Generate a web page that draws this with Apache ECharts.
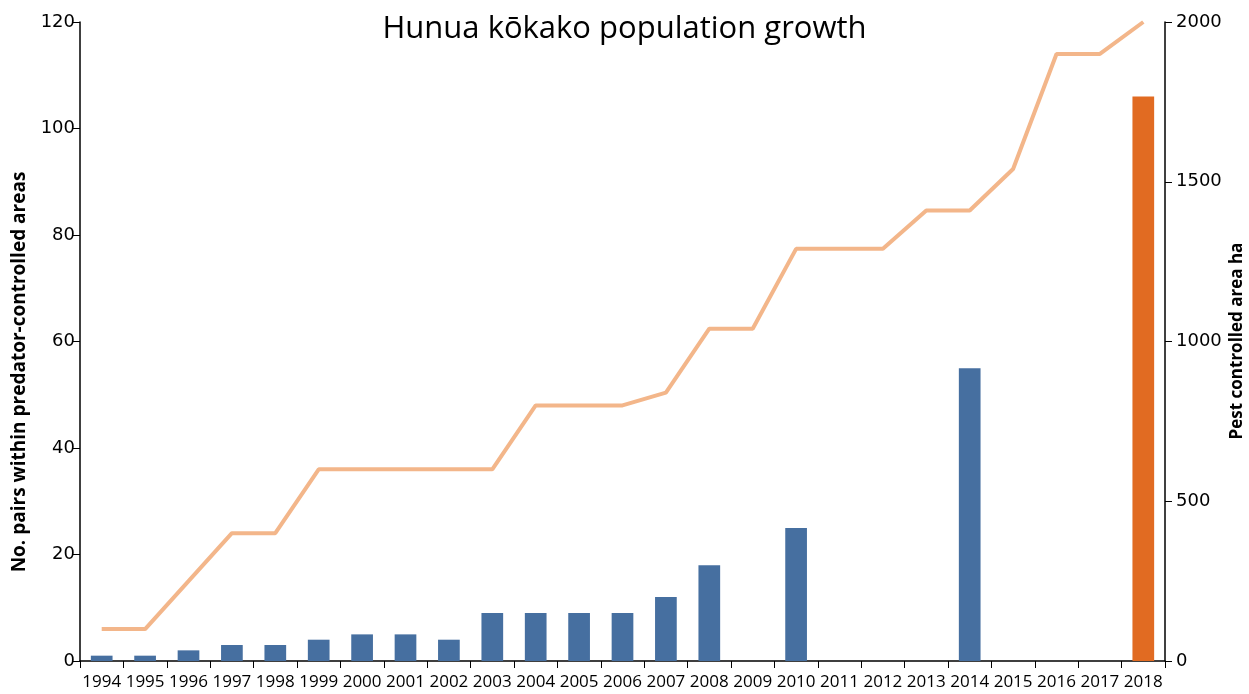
<!DOCTYPE html>
<html>
<head>
<meta charset="utf-8">
<script src="https://cdn.jsdelivr.net/npm/echarts@6/dist/echarts.min.js"></script>
<style>
html,body{margin:0;padding:0;background:#fff;}
#chart{width:1249px;height:694px;}
</style>
</head>
<body>
<div id="chart"></div>
<script>
var years = ['1994','1995','1996','1997','1998','1999','2000','2001','2002','2003','2004','2005','2006','2007','2008','2009','2010','2011','2012','2013','2014','2015','2016','2017','2018'];
var pairs = [1,1,2,3,3,4,5,5,4,9,9,9,9,12,18,null,25,null,null,null,55,null,null,null,106];
var areaHa = [100,100,250,400,400,600,600,600,600,600,800,800,800,840,1040,1040,1290,1290,1290,1410,1410,1540,1900,1900,2000];
var highlightYear = '2018';
var leftTicks = [0,120,20];
var rightTicks = [0,2000,500];

var blue = '#466fa0', orange = '#e16b22', lineColor = '#f3b68a';
var barData = pairs.map(function(v,i){
  if (years[i] === highlightYear) return {value:v, itemStyle:{color:orange}};
  return v;
});

var chart = echarts.init(document.getElementById('chart'));
chart.setOption({
  backgroundColor:'#fff',
  animation:false,
  title:{
    text:'Hunua kōkako population growth',
    left:'center', top:9,
    textStyle:{fontFamily:'Open Sans', fontSize:31, fontWeight:'normal', color:'#000'}
  },
  grid:{left:80, right:84, top:22, bottom:33},
  xAxis:{
    type:'category', data:years, boundaryGap:true,
    axisLine:{show:true, lineStyle:{color:'#000', width:1.5}},
    axisTick:{show:true, alignWithLabel:false, length:7, lineStyle:{color:'#000'}},
    axisLabel:{interval:0, color:'#000', fontFamily:'Open Sans', fontSize:17, margin:13}
  },
  yAxis:[{
    type:'value', min:leftTicks[0], max:leftTicks[1], interval:leftTicks[2], position:'left',
    axisLine:{show:true, lineStyle:{color:'#000', width:1.5}},
    axisTick:{show:true, length:7, lineStyle:{color:'#000'}},
    axisLabel:{color:'#000', fontFamily:'DejaVu Sans', fontSize:18, margin:5},
    splitLine:{show:false}
  },{
    type:'value', min:rightTicks[0], max:rightTicks[1], interval:rightTicks[2], position:'right',
    axisLine:{show:true, lineStyle:{color:'#000', width:1.5}},
    axisTick:{show:true, length:7, lineStyle:{color:'#000'}},
    axisLabel:{color:'#000', fontFamily:'DejaVu Sans', fontSize:18, margin:11,
      formatter:function(v){return String(v);}},
    splitLine:{show:false}
  }],
  graphic:[{
    type:'text', rotation:Math.PI/2, x:20, y:372,
    style:{text:'No. pairs within predator-controlled areas', fontFamily:'Open Sans', fontWeight:'bold', fontSize:19, fill:'#000', align:'center', verticalAlign:'middle'}
  },{
    type:'text', rotation:Math.PI/2, x:1237, y:341,
    style:{text:'Pest controlled area ha', fontFamily:'Open Sans', fontWeight:'bold', fontSize:17, fill:'#000', align:'center', verticalAlign:'middle'}
  }],
  series:[{
    type:'bar', yAxisIndex:0, data:barData, barWidth:'50%',
    itemStyle:{color:blue}
  },{
    type:'line', yAxisIndex:1, data:areaHa, showSymbol:false, symbol:'none',
    lineStyle:{color:lineColor, width:4}, z:3
  }]
});
</script>
</body>
</html>
